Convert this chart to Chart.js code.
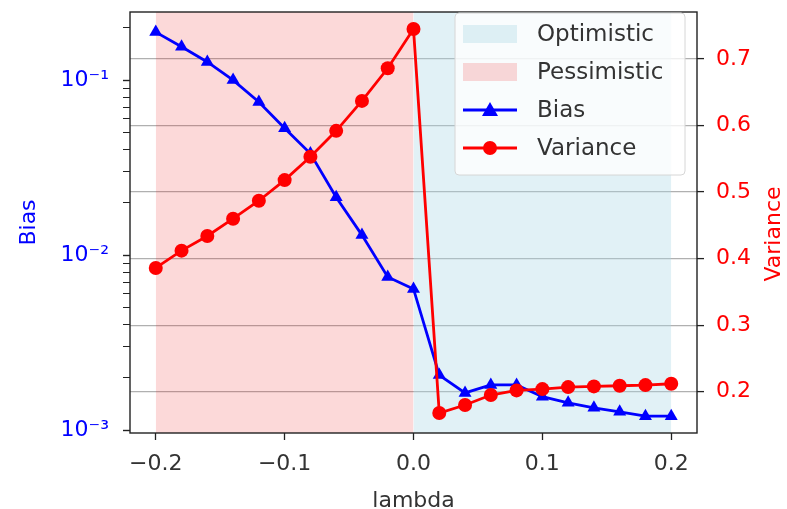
<!DOCTYPE html>
<html>
<head>
<meta charset="utf-8">
<script src="https://cdn.jsdelivr.net/npm/chart.js@4"></script>
<style>
    html, body { margin: 0; padding: 0; background: white; }
    #wrap { width: 787px; height: 509px; }
</style>
</head>
<body>
<div id="wrap"><canvas id="biasChart" width="787" height="509"></canvas></div>
<script>
// lambda values on the x axis
const lambdas = [-0.2, -0.18, -0.16, -0.14, -0.12, -0.1, -0.08, -0.06, -0.04, -0.02, 0.0,
    0.02, 0.04, 0.06, 0.08, 0.1, 0.12, 0.14, 0.16, 0.18, 0.2];

// (left axis is log)
const biasValues = [0.188, 0.155, 0.127, 0.1, 0.075, 0.053, 0.038, 0.0214, 0.013, 0.0075, 0.0064,
    0.00206, 0.00163, 0.00181, 0.00181, 0.00155, 0.00143, 0.00134, 0.00127, 0.0012, 0.0012];

const varianceValues = [0.386, 0.412, 0.434, 0.46, 0.487, 0.518, 0.553, 0.592, 0.637, 0.686, 0.745,
    0.168, 0.18, 0.195, 0.202, 0.204, 0.207, 0.208, 0.209, 0.21, 0.212];

const xTicks = [-0.2, -0.1, 0.0, 0.1, 0.2];
const varianceTicks = [0.2, 0.3, 0.4, 0.5, 0.6, 0.7];
const biasMajorTicks = [0.001, 0.01, 0.1];

// shaded regions [from, to]
const pessimisticSpan = [-0.2, 0.0];
const optimisticSpan = [0.0, 0.2];

const FONT = "'DejaVu Sans', sans-serif";
const FS = 22;
const pinkFill = "rgba(235, 20, 20, 0.16)";
const blueFill = "rgba(173, 216, 230, 0.36)";

const fmtMinus = (s) => s.replace('-', '\u2212');
const sup = { '-': '\u207B', '1': '\u00B9', '2': '\u00B2', '3': '\u00B3' };

// log axis: majors at decades, minors at 2..9
const biasAllTicks = [];
biasMajorTicks.forEach((d) => {
    for (let k = 1; k <= 9; k++) biasAllTicks.push(+(d * k).toPrecision(3));
});

const toPoints = (ys) => lambdas.map((x, i) => ({ x: x, y: ys[i] }));

// keep the plot box where the reference has it
const pinScale = (size) => (scale) => {
    if (scale.isHorizontal()) scale.height = size;
    else scale.width = size;
    scale.paddingTop = 0;
    scale.paddingBottom = 0;
    scale.paddingLeft = 0;
    scale.paddingRight = 0;
};

// frame, legend and right-hand label
const decorPlugin = {
    id: 'decor',
    afterDraw(chart) {
        const ctx = chart.ctx;
        const a = chart.chartArea;
        ctx.save();
        ctx.strokeStyle = '#222';
        ctx.lineWidth = 1.4;
        ctx.strokeRect(a.left, a.top, a.right - a.left, a.bottom - a.top);

        // right y label, reading bottom to top
        ctx.fillStyle = 'red';
        ctx.font = FS + "px " + FONT;
        ctx.textAlign = 'center';
        ctx.textBaseline = 'middle';
        ctx.translate(774, 234);
        ctx.rotate(-Math.PI / 2);
        ctx.fillText('Variance', 0, 0);
        ctx.restore();

        // legend box
        const bx = a.right - 242, by = a.top + 1, bw = 230, bh = 162;
        ctx.save();
        ctx.fillStyle = 'rgba(255,255,255,0.8)';
        ctx.strokeStyle = '#d6d6d6';
        ctx.lineWidth = 1;
        ctx.beginPath();
        ctx.roundRect(bx, by, bw, bh, 4);
        ctx.fill();
        ctx.stroke();

        const rows = [
            { label: 'Optimistic', patch: blueFill },
            { label: 'Pessimistic', patch: pinkFill },
            { label: 'Bias', line: 'blue', marker: 'triangle' },
            { label: 'Variance', line: 'red', marker: 'circle' },
        ];
        ctx.font = "23px " + FONT;
        ctx.textBaseline = 'middle';
        rows.forEach((row, i) => {
            const cy = by + 21 + i * 38;
            if (row.patch) {
                ctx.fillStyle = row.patch;
                ctx.fillRect(bx + 8, cy - 9, 54, 18);
            } else {
                ctx.strokeStyle = row.line;
                ctx.lineWidth = 2.8;
                ctx.beginPath();
                ctx.moveTo(bx + 8, cy);
                ctx.lineTo(bx + 62, cy);
                ctx.stroke();
                ctx.fillStyle = row.line;
                ctx.beginPath();
                if (row.marker === 'circle') {
                    ctx.arc(bx + 35, cy, 7, 0, Math.PI * 2);
                } else {
                    ctx.moveTo(bx + 35, cy - 8);
                    ctx.lineTo(bx + 43, cy + 6);
                    ctx.lineTo(bx + 27, cy + 6);
                    ctx.closePath();
                }
                ctx.fill();
            }
            ctx.fillStyle = '#333';
            ctx.textAlign = 'left';
            ctx.fillText(row.label, bx + 82, cy + 1);
        });
        ctx.restore();
    },
};

const ctx = document.getElementById('biasChart').getContext('2d');

window.biasChartInstance = new Chart(ctx, {
    type: 'line',
    data: {
        datasets: [
            {
                label: 'Variance',
                data: toPoints(varianceValues),
                yAxisID: 'yVar',
                borderColor: 'red',
                backgroundColor: 'red',
                borderWidth: 2.8,
                pointStyle: 'circle',
                pointRadius: 7,
                pointBorderWidth: 0,
                order: 1,
            },
            {
                label: 'Bias',
                data: toPoints(biasValues),
                yAxisID: 'yBias',
                borderColor: 'blue',
                backgroundColor: 'blue',
                borderWidth: 2.8,
                pointStyle: 'triangle',
                pointRadius: 7.5,
                pointBorderWidth: 0,
                order: 2,
            },
            {
                label: 'Optimistic',
                data: optimisticSpan.map((x) => ({ x: x, y: 1 })),
                yAxisID: 'ySpan',
                borderWidth: 0,
                pointRadius: 0,
                backgroundColor: blueFill,
                fill: 'start',
                order: 3,
            },
            {
                label: 'Pessimistic',
                data: pessimisticSpan.map((x) => ({ x: x, y: 1 })),
                yAxisID: 'ySpan',
                borderWidth: 0,
                pointRadius: 0,
                backgroundColor: pinkFill,
                fill: 'start',
                order: 3,
            },
        ],
    },
    options: {
        responsive: false,
        animation: false,
        layout: { padding: { top: 12, left: 0, right: 0, bottom: 0 } },
        plugins: {
            legend: { display: false },
            tooltip: { enabled: false },
        },
        scales: {
            x: {
                type: 'linear',
                min: -0.22,
                max: 0.22,
                afterBuildTicks: (scale) => {
                    scale.ticks = xTicks.map((v) => ({ value: v }));
                },
                afterFit: pinScale(76),
                border: { display: false },
                grid: {
                    drawOnChartArea: false,
                    drawTicks: true,
                    tickLength: 7,
                    tickColor: '#222',
                    tickWidth: 1.3,
                },
                ticks: {
                    color: '#333',
                    padding: 11,
                    font: { size: FS, family: FONT },
                    maxRotation: 0,
                    callback: (v) => fmtMinus(Number(v).toFixed(1)),
                },
                title: {
                    display: true,
                    text: 'lambda',
                    color: '#333',
                    font: { size: FS, family: FONT },
                    padding: { top: 0, bottom: -5 },
                },
            },
            yBias: {
                type: 'logarithmic',
                position: 'left',
                min: Math.pow(10, -3.017),
                max: 0.245,
                afterBuildTicks: (scale) => {
                    scale.ticks = biasAllTicks
                        .filter((v) => v >= scale.min && v <= scale.max)
                        .map((v) => ({ value: v, major: biasMajorTicks.includes(v) }));
                },
                afterFit: pinScale(130),
                border: { display: false },
                grid: {
                    drawOnChartArea: false,
                    drawTicks: true,
                    tickLength: 7,
                    tickColor: '#222',
                    tickWidth: (c) => (c.tick && c.tick.major ? 1.4 : 1),
                },
                ticks: {
                    color: 'blue',
                    padding: 14,
                    autoSkip: false,
                    font: { size: FS, family: FONT },
                    callback: (v) => {
                        if (!biasMajorTicks.includes(v)) return '';
                        const e = String(Math.round(Math.log10(v)));
                        return '10' + e.split('').map((c) => sup[c]).join('');
                    },
                },
                title: {
                    display: true,
                    text: 'Bias',
                    color: 'blue',
                    font: { size: FS, family: FONT },
                    padding: { top: 16, bottom: 0 },
                },
            },
            yVar: {
                type: 'linear',
                position: 'right',
                min: 0.138,
                max: 0.7706,
                afterBuildTicks: (scale) => {
                    scale.ticks = varianceTicks.map((v) => ({ value: v }));
                },
                afterFit: pinScale(90),
                border: { display: false },
                grid: {
                    drawOnChartArea: true,
                    color: '#b0b0b0',
                    lineWidth: 1.2,
                    drawTicks: true,
                    tickLength: 7,
                    tickColor: '#222',
                    tickWidth: 1.3,
                },
                ticks: {
                    color: 'red',
                    padding: 12,
                    font: { size: FS, family: FONT },
                    callback: (v) => Number(v).toFixed(1),
                },
            },
            ySpan: {
                type: 'linear',
                display: false,
                min: 0,
                max: 1,
            },
        },
    },
    plugins: [decorPlugin],
});
</script>
</body>
</html>
